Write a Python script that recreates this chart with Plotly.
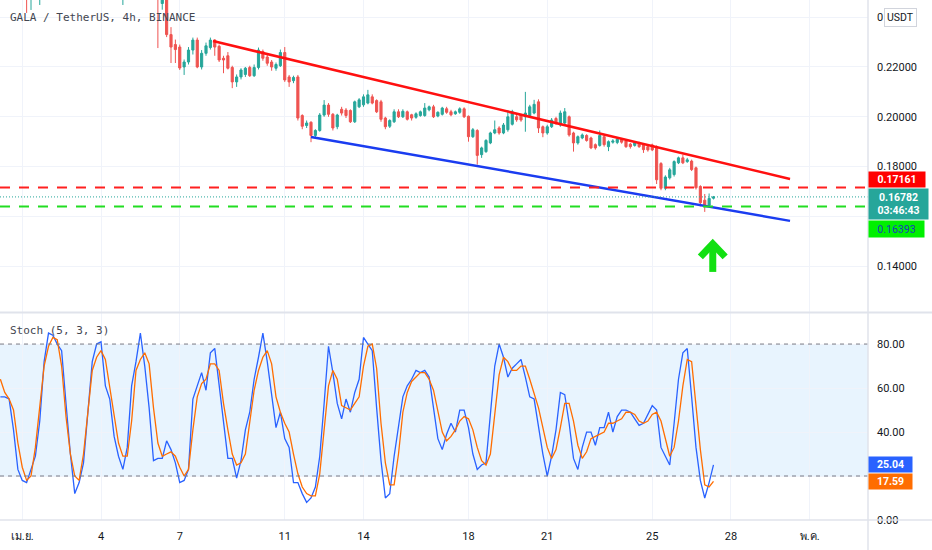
import pandas as pd
import plotly.graph_objects as go

# -----------------------
# Data (GALA/USDT, 4h bars)
# -----------------------

bar_times = pd.date_range("2022-03-31 04:00", periods=164, freq="4h")

opens = [
    .2620, .2600, .2570, .2540, .2560, .2530, .2500, .2485, .2515, .2500,
    .2550, .2585, .2620, .2660, .2640, .2600, .2625, .2670, .2700, .2680,
    .2640, .2660, .2710, .2740, .2720, .2680, .2630, .2580, .2530, .2560,
    .2600, .2640, .2680, .2660, .2620, .2580, .2520, .2455, .2490, .2330,
    .2290, .2280, .2200, .2220, .2268, .2308, .2200, .2255, .2278, .2308,
    .2283, .2235, .2245, .2198, .2140, .2160, .2170, .2198, .2165, .2198,
    .2262, .2240, .2220, .2195, .2205, .2258, .2160, .2145, .2160, .2005,
    .1965, .1978, .1925, .1945, .2007, .2047, .2010, .1960, .2030, .2027,
    .2025, .1980, .2040, .2048, .2055, .2080, .2065, .2060, .1995, .1962,
    .1980, .2020, .2000, .2020, .2008, .1998, .2005, .2005, .2028, .2040,
    .2003, .2010, .2032, .2020, .2012, .2018, .2032, .2002, .1920, .1945,
    .1848, .1860, .1895, .1935, .1955, .1935, .1948, .1970, .2000, .2007,
    .2000, .2005, .2015, .2060, .1960, .1935, .1960, .1993, .1967, .1975,
    .2000, .1935, .1895, .1915, .1925, .1915, .1888, .1885, .1920, .1880,
    .1898, .1897, .1910, .1903, .1890, .1885, .1895, .1887, .1880, .1887,
    .1880, .1812, .1713, .1755, .1768, .1815, .1835, .1820, .1822, .1795,
    .1720, .1665, .1645, .1673,
]
highs = [
    .2660, .2630, .2600, .2580, .2590, .2560, .2530, .2530, .2540, .2570,
    .2600, .2640, .2680, .2700, .2670, .2640, .2690, .2720, .2740, .2700,
    .2680, .2720, .2760, .2780, .2740, .2700, .2650, .2600, .2580, .2620,
    .2660, .2700, .2720, .2680, .2640, .2600, .2540, .2500, .2500, .2360,
    .2310, .2290, .2230, .2280, .2318, .2318, .2268, .2298, .2318, .2312,
    .2290, .2245, .2260, .2205, .2170, .2195, .2200, .2205, .2210, .2278,
    .2270, .2250, .2228, .2218, .2270, .2280, .2168, .2165, .2168, .2010,
    .1985, .1982, .1950, .2015, .2067, .2055, .2015, .2012, .2040, .2035,
    .2030, .2065, .2075, .2090, .2108, .2090, .2070, .2068, .2000, .1990,
    .2030, .2030, .2030, .2025, .2012, .2018, .2025, .2055, .2045, .2048,
    .2022, .2040, .2040, .2028, .2025, .2038, .2038, .2005, .1955, .1950,
    .1880, .1910, .1940, .1985, .1962, .1975, .2027, .2028, .2010, .2012,
    .2100, .2048, .2068, .2070, .1965, .1968, .1995, .2000, .2025, .2035,
    .2005, .1940, .1925, .1933, .1930, .1920, .1893, .1945, .1928, .1905,
    .1910, .1915, .1915, .1910, .1895, .1900, .1900, .1892, .1885, .1892,
    .1885, .1818, .1765, .1795, .1825, .1840, .1848, .1835, .1828, .1800,
    .1725, .1690, .1692, .1682,
]
lows = [
    .2580, .2550, .2520, .2500, .2520, .2490, .2417, .2429, .2490, .2449,
    .2520, .2560, .2600, .2620, .2580, .2570, .2610, .2640, .2660, .2620,
    .2600, .2650, .2690, .2700, .2660, .2620, .2560, .2510, .2449, .2540,
    .2580, .2610, .2640, .2600, .2560, .2510, .2276, .2430, .2320, .2216,
    .2216, .2188, .2168, .2210, .2250, .2195, .2190, .2245, .2270, .2245,
    .2220, .2175, .2190, .2115, .2120, .2150, .2160, .2160, .2160, .2190,
    .2225, .2205, .2185, .2185, .2200, .2140, .2120, .2135, .1985, .1950,
    .1955, .1898, .1915, .1940, .2000, .2000, .1945, .1950, .2005, .1995,
    .1975, .1975, .2035, .2040, .2050, .2050, .2015, .1980, .1950, .1955,
    .1975, .1995, .1995, .1985, .1985, .1992, .2000, .2000, .2022, .1995,
    .1998, .2005, .2012, .2002, .2008, .2012, .1995, .1900, .1915, .1808,
    .1835, .1855, .1890, .1930, .1928, .1930, .1940, .1965, .1980, .1980,
    .1940, .2000, .2010, .1935, .1918, .1928, .1955, .1968, .1960, .1968,
    .1920, .1860, .1888, .1910, .1900, .1870, .1868, .1880, .1880, .1862,
    .1892, .1890, .1892, .1875, .1872, .1880, .1875, .1855, .1860, .1862,
    .1730, .1705, .1705, .1748, .1760, .1810, .1810, .1815, .1782, .1708,
    .1640, .1618, .1638, .1668,
]
closes = [
    .2600, .2570, .2540, .2560, .2530, .2500, .2485, .2515, .2500, .2550,
    .2585, .2620, .2660, .2640, .2600, .2625, .2670, .2700, .2680, .2640,
    .2660, .2710, .2740, .2720, .2680, .2630, .2580, .2530, .2560, .2600,
    .2640, .2680, .2660, .2620, .2580, .2520, .2475, .2490, .2330, .2280,
    .2270, .2196, .2220, .2268, .2308, .2200, .2255, .2285, .2308, .2280,
    .2228, .2228, .2195, .2140, .2160, .2188, .2195, .2165, .2198, .2268,
    .2235, .2215, .2200, .2210, .2258, .2148, .2140, .2158, .1995, .1962,
    .1975, .1925, .1945, .2007, .2047, .2010, .1955, .2007, .2015, .2005,
    .1980, .2060, .2068, .2080, .2088, .2055, .2020, .1990, .1960, .1985,
    .2020, .2000, .2022, .1990, .1995, .2012, .2020, .2035, .2040, .2000,
    .2018, .2035, .2018, .2008, .2020, .2032, .2000, .1920, .1948, .1845,
    .1875, .1905, .1935, .1948, .1935, .1967, .2000, .2020, .1988, .1987,
    .2015, .2040, .2050, .1955, .1935, .1960, .1987, .1975, .2015, .2020,
    .1927, .1895, .1920, .1927, .1905, .1875, .1875, .1925, .1888, .1900,
    .1903, .1910, .1898, .1880, .1880, .1895, .1880, .1868, .1867, .1867,
    .1747, .1713, .1758, .1787, .1820, .1835, .1815, .1827, .1788, .1715,
    .1655, .1640, .1672, .16782,
]

# Stoch (5, 3, 3): %K blue, %D orange
stoch_k = [
    56, 56, 55, 41, 23, 18, 17, 23, 29, 45,
    72, 85, 84, 80, 77, 53, 30, 12, 17, 26,
    50, 72, 80, 81, 61, 55, 38, 29, 23, 33,
    61, 72, 85, 70, 51, 27, 28, 28, 36, 32,
    26, 17, 18, 23, 55, 61, 67, 59, 76, 78,
    61, 45, 28, 28, 19, 27, 41, 49, 64, 74,
    85, 72, 58, 42, 49, 37, 33, 17, 17, 12,
    8, 10, 15, 29, 53, 79, 67, 53, 46, 55,
    49, 58, 64, 83, 80, 77, 51, 27, 10, 12,
    29, 42, 56, 61, 64, 68, 67, 68, 65, 51,
    37, 32, 39, 44, 40, 50, 50, 42, 30, 23,
    25, 26, 49, 70, 80, 74, 65, 69, 71, 73,
    65, 56, 55, 42, 30, 20, 29, 41, 58, 57,
    44, 28, 23, 33, 40, 40, 34, 42, 42, 49,
    40, 47, 50, 50, 49, 46, 43, 44, 48, 52,
    50, 33, 29, 25, 44, 64, 76, 78, 56, 33,
    18, 10, 17, 25.04,
]
stoch_d = [
    64, 58, 55, 50, 35, 24, 18, 20, 33, 51,
    70, 79, 83, 82, 70, 47, 30, 20, 18, 30,
    49, 68, 74, 77, 73, 61, 49, 35, 29, 29,
    45, 68, 73, 76, 71, 51, 35, 29, 30, 31,
    29, 24, 20, 23, 41, 56, 62, 64, 71, 71,
    68, 53, 41, 30, 25, 26, 30, 45, 59, 68,
    74, 77, 71, 56, 49, 44, 40, 30, 21, 15,
    12, 11, 11, 21, 41, 61, 68, 64, 52, 51,
    50, 53, 56, 70, 79, 80, 69, 44, 26, 16,
    16, 30, 49, 58, 63, 65, 67, 67, 64, 59,
    49, 40, 36, 38, 41, 45, 47, 46, 41, 33,
    27, 25, 30, 47, 66, 74, 72, 68, 68, 70,
    70, 64, 58, 51, 42, 33, 28, 32, 42, 53,
    53, 45, 34, 28, 31, 37, 38, 39, 40, 44,
    44, 45, 46, 49, 49, 48, 45, 44, 45, 48,
    49, 45, 37, 29, 33, 45, 61, 73, 72, 51,
    32, 16, 15, 17.59,
]

tick_dates = ["2022-04-01", "2022-04-04", "2022-04-07", "2022-04-11", "2022-04-14",
              "2022-04-18", "2022-04-21", "2022-04-25", "2022-04-28", "2022-05-01"]
tick_text = ["เม.ย.", "4", "7", "11", "14", "18", "21", "25", "28", "พ.ค."]

# 0.16 and 20 sit under the price tags, 0.24 is cut by the USDT badge
price_ticks = [0.14, 0.16, 0.18, 0.20, 0.22, 0.24]
price_tick_text = ["0.14000", "", "0.18000", "0.20000", "0.22000", "0"]
stoch_ticks = [0, 20, 40, 60, 80]
stoch_tick_text = ["0.00", "", "40.00", "60.00", "80.00"]

# drawings on the chart
red_line_x = ["2022-04-08 06:24", "2022-04-30 06:00"]
red_line_y = [0.2304, 0.1750]
blue_line_x = ["2022-04-12 00:00", "2022-04-30 06:00"]
blue_line_y = [0.1919, 0.1582]
arrow_x = ["2022-04-26 20:00", "2022-04-27 07:20", "2022-04-27 18:40", None,
           "2022-04-27 07:20", "2022-04-27 07:20"]
arrow_y = [0.1437, 0.1490, 0.1437, None, 0.1488, 0.1377]

resistance = 0.17161
support = 0.16393
last_price = 0.16782
countdown = "03:46:43"

x_view = ["2022-03-31 03:39", "2022-05-03 05:16"]

GRID = "#f0f3fa"
BORDER = "#e0e3eb"
TXT = "#131722"
UP = "#26a69a"
DOWN = "#ef5350"

# -----------------------
# Chart
# -----------------------

fig = go.Figure()

fig.add_trace(go.Candlestick(
    x=bar_times, open=opens, high=highs, low=lows, close=closes,
    increasing=dict(line=dict(color=UP, width=1), fillcolor=UP),
    decreasing=dict(line=dict(color=DOWN, width=1), fillcolor=DOWN),
    whiskerwidth=0,
    xaxis="x2", yaxis="y",
    hoverinfo="skip"
))

fig.add_trace(go.Scatter(
    x=red_line_x, y=red_line_y, mode="lines",
    line=dict(color="#ff1010", width=2.5),
    xaxis="x2", yaxis="y", hoverinfo="skip"
))
fig.add_trace(go.Scatter(
    x=blue_line_x, y=blue_line_y, mode="lines",
    line=dict(color="#1a3cf0", width=2.5),
    xaxis="x2", yaxis="y", hoverinfo="skip"
))
fig.add_trace(go.Scatter(
    x=arrow_x, y=arrow_y, mode="lines",
    line=dict(color="#12e012", width=7),
    xaxis="x2", yaxis="y", hoverinfo="skip"
))

fig.add_trace(go.Scatter(
    x=bar_times, y=stoch_k, mode="lines",
    line=dict(color="#2962ff", width=1.3),
    xaxis="x", yaxis="y2", hoverinfo="skip"
))
fig.add_trace(go.Scatter(
    x=bar_times, y=stoch_d, mode="lines",
    line=dict(color="#ff6d00", width=1.3),
    xaxis="x", yaxis="y2", hoverinfo="skip"
))

shapes = [
    # stoch band
    dict(type="rect", xref="paper", yref="y2", x0=0, x1=1, y0=20, y1=80,
         fillcolor="rgba(33,150,243,0.1)", line=dict(width=0), layer="below"),
    dict(type="line", xref="paper", yref="y2", x0=0, x1=1, y0=80, y1=80,
         line=dict(color="#787b86", width=1, dash="4px,4px")),
    dict(type="line", xref="paper", yref="y2", x0=0, x1=1, y0=20, y1=20,
         line=dict(color="#787b86", width=1, dash="4px,4px")),
    # horizontal levels
    dict(type="line", xref="paper", yref="y", x0=0, x1=1, y0=resistance, y1=resistance,
         line=dict(color="#ff2020", width=2, dash="10px,9px")),
    dict(type="line", xref="paper", yref="y", x0=0, x1=1, y0=support, y1=support,
         line=dict(color="#22dd22", width=2, dash="10px,9px")),
    dict(type="line", xref="paper", yref="y", x0=0, x1=1, y0=last_price, y1=last_price,
         line=dict(color=UP, width=1, dash="1px,2px")),
    # pane borders
    dict(type="line", xref="paper", yref="paper", x0=0, x1=1.08, y0=0.399, y1=0.399,
         line=dict(color=BORDER, width=2)),
    dict(type="line", xref="paper", yref="paper", x0=0, x1=1.08, y0=0, y1=0,
         line=dict(color=BORDER, width=1.5)),
    dict(type="line", xref="paper", yref="paper", x0=1, x1=1, y0=-0.06, y1=1,
         line=dict(color=BORDER, width=1.5)),
]

annotations = [
    dict(text="GALA / TetherUS, 4h, BINANCE", xref="paper", yref="paper",
         x=0.009, y=0.966, xanchor="left", yanchor="middle", showarrow=False,
         font=dict(family="DejaVu Sans Mono", size=11, color="#434651")),
    dict(text="Stoch (5, 3, 3)", xref="paper", yref="paper",
         x=0.009, y=0.365, xanchor="left", yanchor="middle", showarrow=False,
         font=dict(family="DejaVu Sans Mono", size=11, color="#434651")),
    dict(text="USDT", xref="paper", yref="y", x=1, y=0.24, xshift=16,
         xanchor="left", yanchor="middle", showarrow=False,
         bgcolor="white", bordercolor="#d1d4dc", borderwidth=1, borderpad=2,
         font=dict(family="Roboto", size=10.5, color=TXT)),
    dict(text="<b>%.5f</b>" % resistance, xref="paper", yref="y", x=1, y=resistance,
         yshift=8, xanchor="left", yanchor="middle", showarrow=False,
         bgcolor="#ff0000", width=54, height=13, borderpad=1,
         font=dict(family="Roboto", size=10.5, color="white")),
    dict(text="<b>%.5f</b><br><b>%s</b>" % (last_price, countdown), xref="paper", yref="y",
         x=1, y=last_price, yshift=-7, xanchor="left", yanchor="middle",
         showarrow=False, bgcolor=UP, width=57, height=28, borderpad=1,
         font=dict(family="Roboto", size=10.5, color="white")),
    dict(text="%.5f" % support, xref="paper", yref="y", x=1, y=support,
         yshift=-22, xanchor="left", yanchor="middle", showarrow=False,
         bgcolor="#00f000", width=53, height=14, borderpad=1,
         font=dict(family="Roboto", size=10.5, color="#1b3bbf")),
    dict(text="<b>%.2f</b>" % stoch_k[-1], xref="paper", yref="y2", x=1, y=stoch_k[-1],
         xanchor="left", yanchor="middle", showarrow=False,
         bgcolor="#2962ff", width=41, height=13, borderpad=1,
         font=dict(family="Roboto", size=10.5, color="white")),
    dict(text="<b>%.2f</b>" % stoch_d[-1], xref="paper", yref="y2", x=1, y=stoch_d[-1],
         xanchor="left", yanchor="middle", showarrow=False,
         bgcolor="#ff6d00", width=41, height=13, borderpad=1,
         font=dict(family="Roboto", size=10.5, color="white")),
]

fig.update_layout(
    width=932, height=550,
    margin=dict(l=0, r=64, t=0, b=30),
    paper_bgcolor="white", plot_bgcolor="white",
    showlegend=False,
    font=dict(family="Roboto", size=11, color=TXT),
    xaxis=dict(
        domain=[0, 1], anchor="y2", type="date", range=x_view,
        tickvals=tick_dates, ticktext=tick_text, ticks="",
        showgrid=True, gridcolor=GRID, zeroline=False, showline=False,
        rangeslider=dict(visible=False), ticklabelstandoff=8,
        tickfont=dict(family="Roboto", size=11, color=TXT),
    ),
    xaxis2=dict(
        matches="x", anchor="y", type="date", range=x_view,
        tickvals=tick_dates, showticklabels=False, ticks="",
        showgrid=True, gridcolor=GRID, zeroline=False, showline=False,
        rangeslider=dict(visible=False),
    ),
    yaxis=dict(
        domain=[0.4, 1], anchor="x2", side="right",
        range=[0.1216, 0.2469], tickvals=price_ticks, ticktext=price_tick_text,
        showgrid=True, gridcolor=GRID, zeroline=False, ticks="",
        ticklabelstandoff=8,
    ),
    yaxis2=dict(
        domain=[0, 0.398], anchor="x", side="right",
        range=[0, 94.1], tickvals=stoch_ticks, ticktext=stoch_tick_text,
        showgrid=True, gridcolor=GRID, zeroline=False, ticks="",
        ticklabelstandoff=8,
    ),
    shapes=shapes,
    annotations=annotations,
)

# page body has a default 8px margin; drop it so the chart sits at the top-left
fig.write_html("out.html", config={"displayModeBar": False},
               post_script="document.body.style.margin='0px';")
